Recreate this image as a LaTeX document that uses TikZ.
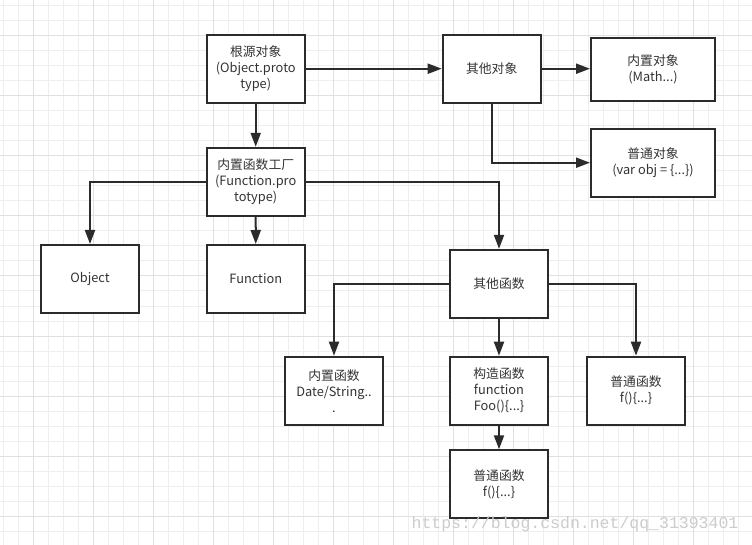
\documentclass[tikz,border=0pt]{standalone}
\usepackage{fontspec}
\setmainfont{Noto Sans CJK SC}
\newfontfamily\markfont{Liberation Mono}
\usetikzlibrary{arrows.meta, positioning}
\definecolor{ink}{HTML}{2B2B2B}
\definecolor{txt}{HTML}{333333}
\definecolor{gridminor}{HTML}{EEEEEE}
\definecolor{gridmajor}{HTML}{E0E0E0}

\begin{document}
\begin{tikzpicture}[x=1pt, y=-1pt,
    box/.style={draw=ink, line width=2pt, fill=white,
                minimum width=98pt, minimum height=68pt, inner sep=1pt,
                align=center, text=txt, font=\fontsize{12.8}{16}\selectfont},
    widebox/.style={box, minimum width=124pt},
    fl/.style={-{Triangle[length=14pt, width=10pt]}, draw=ink, line width=2pt},
    watermark/.style={text=gray!40, font=\markfont\fontsize{16.5}{18}\selectfont}
]
    \useasboundingbox (0,0) rectangle (752,545);
    \fill[white] (0,0) rectangle (752,545);
    \foreach \x in {3.3,18.3,...,752} \draw[gridminor, line width=1pt] (\x,0) -- (\x,545);
    \foreach \y in {6,21,...,545} \draw[gridminor, line width=1pt] (0,\y) -- (752,\y);
    \foreach \x in {33.3,93.3,...,752} \draw[gridmajor, line width=1pt] (\x,0) -- (\x,545);
    \foreach \y in {36,96,...,545} \draw[gridmajor, line width=1pt] (0,\y) -- (752,\y);

    \node[box] (root) at (255.7,68.7) {根源对象\\(Object.proto\\type)};
    \node[box] (otherobj) at (491.7,68.7) {其他对象};
    \node[widebox, minimum height=63pt] (builtinobj) at (653,69.2) {内置对象\\(Math...)};
    \node[widebox] (plainobj) at (653,162.7) {普通对象\\(var obj = \{...\})};
    \node[box] (factory) at (255.7,181.8) {内置函数工厂\\(Function.pro\\totype)};
    \node[box] (object) at (90,279) {Object};
    \node[box] (function) at (255.8,279) {Function};
    \node[box] (otherfn) at (499,283.8) {其他函数};
    \node[box] (builtinfn) at (334,390.7) {内置函数\\Date/String..\\.};
    \node[box] (ctor) at (499,390.7) {构造函数\\function\\Foo()\{...\}};
    \node[box] (plainfn) at (636,390.7) {普通函数\\f()\{...\}};
    \node[box] (ctorfn) at (499,484.3) {普通函数\\f()\{...\}};

    \draw[fl] (root) -- (otherobj);
    \draw[fl] (otherobj) -- (builtinobj.west |- otherobj);
    \draw[fl] (otherobj.south) |- (plainobj.west);
    \draw[fl] (root) -- (factory);
    \draw[fl] (factory.west) -| (object.north);
    \draw[fl] (factory) -- (function);
    \draw[fl] (factory.east) -| (otherfn.north);
    \draw[fl] (otherfn.west) -| (builtinfn.north);
    \draw[fl] (otherfn) -- (ctor);
    \draw[fl] (otherfn.east) -| (plainfn.north);
    \draw[fl] (ctor) -- (ctorfn);

    \node[watermark] (url) at (575,524) {https://blog.csdn.net/qq\_31393401};
\end{tikzpicture}
\end{document}
